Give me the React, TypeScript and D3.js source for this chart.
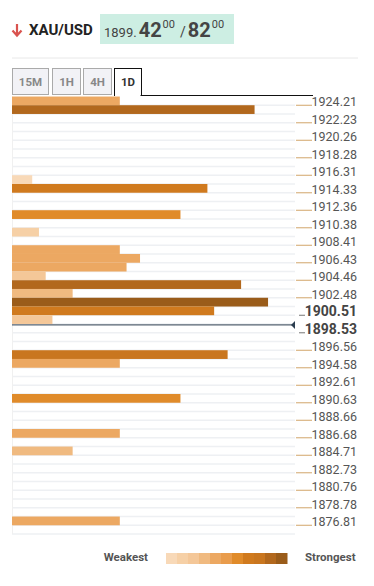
import React, { useEffect, useRef } from 'react'
import * as d3 from 'd3'

// price levels (row centres) that carry a confluence bar
const levels = [
  1924.70, 1923.72, 1915.82, 1914.83, 1911.87, 1909.89, 1907.92, 1906.93, 1905.94, 1904.96,
  1903.97, 1902.98, 1901.99, 1901.01, 1900.02, 1896.07, 1895.08, 1891.13, 1887.18, 1885.20, 1877.30,
]
// strength of each level (number of indicators converging)
const strengths = [16, 36, 3, 29, 25, 4, 16, 19, 17, 5, 34, 9, 38, 30, 6, 32, 16, 25, 16, 9, 16]
// axis labels on the right
const tickLabels = [
  '1924.21', '1922.23', '1920.26', '1918.28', '1916.31', '1914.33', '1912.36', '1910.38', '1908.41',
  '1906.43', '1904.46', '1902.48', '1900.51', '1898.53', '1896.56', '1894.58', '1892.61', '1890.63',
  '1888.66', '1886.68', '1884.71', '1882.73', '1880.76', '1878.78', '1876.81',
]
const boldLabels = ['1900.51', '1898.53']
const currentPrice = 1899.42
const tabs = ['15M', '1H', '4H', '1D']
const palette = [
  '#f8d9b8', '#f6d0a6', '#f4c798', '#f0ba80', '#eca862', '#e99c4c',
  '#e08b2a', '#d07a1e', '#c9761f', '#b2681d', '#9a5c1a',
]

const step = 0.9875 // price span of one row
const rows = 50

export default function App() {
  const ref = useRef<SVGSVGElement | null>(null)

  useEffect(() => {
    const svg = d3.select(ref.current)
    svg.selectAll('*').remove()
    const font = 'Roboto, sans-serif'

    const left = 12
    const right = 295
    const top = 96.5
    const bottom = 534
    const maxPrice = +tickLabels[0] + step
    const minPrice = maxPrice - rows * step

    const y = d3.scaleLinear().domain([minPrice, maxPrice]).range([bottom, top])
    const x = d3.scaleLinear().domain([0, 42]).range([left, right])
    const color = d3.scaleThreshold<number, string>()
      .domain([4, 5, 8, 12, 20, 24, 28, 31, 33.5, 37])
      .range(palette)

    // header
    svg.append('path')
      .attr('d', 'M17 24 L17 35 M12.5 30.5 L17 35.5 L21.5 30.5')
      .attr('stroke', '#d9534f').attr('stroke-width', 2.2).attr('fill', 'none')
    svg.append('text').attr('x', 29).attr('y', 35).text('XAU/USD')
      .attr('font-family', font).attr('font-weight', 'bold').attr('font-size', 15).attr('fill', '#222')
    svg.append('rect').attr('x', 100).attr('y', 14).attr('width', 134).attr('height', 30).attr('fill', '#cdeee3')
    const price = svg.append('text').attr('x', 104).attr('y', 37).attr('font-family', font).attr('fill', '#444')
    price.append('tspan').text('1899.').attr('font-size', 13)
    price.append('tspan').text('42').attr('font-size', 20).attr('font-weight', 'bold').attr('dx', 2)
    price.append('tspan').text('00').attr('font-size', 11).attr('dy', -9).attr('dx', 1)
    price.append('tspan').text('/').attr('font-size', 14).attr('dy', 9).attr('dx', 5)
    price.append('tspan').text('82').attr('font-size', 20).attr('font-weight', 'bold').attr('dx', 2)
    price.append('tspan').text('00').attr('font-size', 11).attr('dy', -9).attr('dx', 1)

    svg.append('line').attr('x1', 12).attr('x2', 358).attr('y1', 58).attr('y2', 58)
      .attr('stroke', '#e8e8e8')

    // tabs
    const tabX = [12, 52, 83, 114]
    const tabW = [36, 28, 28, 27]
    tabs.forEach((t, i) => {
      const active = i === tabs.length - 1
      svg.append('rect').attr('x', tabX[i] + 0.5).attr('y', 68.5)
        .attr('width', tabW[i]).attr('height', active ? 27 : 26)
        .attr('fill', active ? '#fff' : '#f2f2f6')
        .attr('stroke', active ? '#111' : '#aaa').attr('stroke-width', 1)
      svg.append('text').attr('x', tabX[i] + tabW[i] / 2 + 0.5).attr('y', 86)
        .attr('text-anchor', 'middle').text(t)
        .attr('font-family', font).attr('font-weight', 'bold').attr('font-size', 11.5)
        .attr('fill', active ? '#333' : '#888')
    })
    svg.append('rect').attr('x', 115).attr('y', 94).attr('width', 25.5).attr('height', 3).attr('fill', '#fff')
    svg.append('line').attr('x1', 141).attr('x2', 313).attr('y1', 95.5).attr('y2', 95.5)
      .attr('stroke', '#111').attr('stroke-width', 1)

    // row grid
    const g = svg.append('g')
    g.selectAll('.row-line')
      .data(d3.range(1, rows + 1))
      .enter()
      .append('line')
      .attr('x1', left).attr('x2', right)
      .attr('y1', d => y(maxPrice - d * step)).attr('y2', d => y(maxPrice - d * step))
      .attr('stroke', '#eef0f3').attr('stroke-width', 1.5)
    g.append('line').attr('x1', left + 0.5).attr('x2', left + 0.5).attr('y1', top).attr('y2', bottom)
      .attr('stroke', '#f0f0f0')

    // current price line
    g.append('line').attr('x1', left).attr('x2', right - 2)
      .attr('y1', y(currentPrice)).attr('y2', y(currentPrice))
      .attr('stroke', '#2c3e50').attr('stroke-width', 1)
    g.append('path')
      .attr('d', `M${right - 4} ${y(currentPrice)} L${right} ${y(currentPrice) - 4} L${right} ${y(currentPrice) + 4} Z`)
      .attr('fill', '#2c3e50')

    // bars
    g.selectAll('.bar')
      .data(levels)
      .enter()
      .append('rect')
      .attr('x', left)
      .attr('y', d => y(d + step / 2))
      .attr('height', d => y(d - step / 2) - y(d + step / 2))
      .attr('width', (d, i) => x(strengths[i]) - left)
      .attr('fill', (d, i) => color(strengths[i]))

    // right axis
    const ax = svg.append('g')
    tickLabels.forEach(t => {
      const bold = boldLabels.includes(t)
      const ty = y(+t)
      ax.append('line')
        .attr('x1', bold ? 299 : 296).attr('x2', bold ? 305 : 312)
        .attr('y1', ty).attr('y2', ty)
        .attr('stroke', bold ? '#777' : '#d2a56a').attr('stroke-width', 1)
      ax.append('text').attr('x', 357).attr('y', ty + 1)
        .attr('text-anchor', 'end').text(t)
        .attr('font-family', font)
        .attr('font-size', bold ? 14 : 12.5)
        .attr('font-weight', bold ? 'bold' : 'normal')
        .attr('fill', bold ? '#444' : '#555')
    })

    // legend
    const lx = d3.scaleBand<number>().domain(d3.range(palette.length)).range([166, 287])
    svg.selectAll('.legend')
      .data(palette)
      .enter()
      .append('rect')
      .attr('x', (d, i) => lx(i) as number)
      .attr('y', 553)
      .attr('width', lx.bandwidth() + 0.5)
      .attr('height', 11)
      .attr('fill', d => d)
    svg.append('text').attr('x', 148).attr('y', 561).attr('text-anchor', 'end').text('Weakest')
      .attr('font-family', font).attr('font-weight', 'bold').attr('font-size', 11.5).attr('fill', '#555')
    svg.append('text').attr('x', 305).attr('y', 561).text('Strongest')
      .attr('font-family', font).attr('font-weight', 'bold').attr('font-size', 11.5).attr('fill', '#555')
  }, [])

  return (
    <svg
      ref={ref}
      width={374}
      height={586}
      style={{ position: 'absolute', left: 0, top: 0, background: '#fff' }}
    />
  )
}
